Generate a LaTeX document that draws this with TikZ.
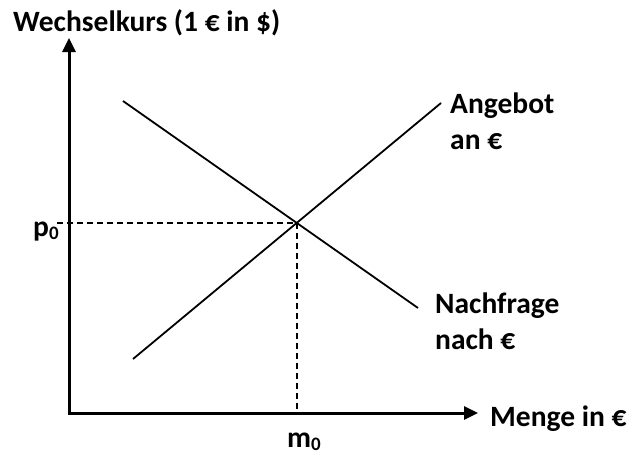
\documentclass[tikz,border=0pt]{standalone}
\usepackage{fontspec}
\setmainfont{Carlito}
\usetikzlibrary{arrows.meta}
\newcommand{\mysub}[1]{\raisebox{-3pt}{\fontsize{19}{19}\selectfont #1}}
\begin{document}
\begin{tikzpicture}[x=1pt,y=-1pt,
  lbl/.style={font=\fontsize{29.5}{36}\selectfont\bfseries, inner sep=0pt},
  axis/.style={line width=3pt, -{Triangle[length=14pt,width=13pt]}},
  curve/.style={line width=1.8pt},
  guide/.style={line width=1.3pt, dash pattern=on 6pt off 4pt}]
\useasboundingbox (0,0) rectangle (636,455);
\coordinate (O) at (69,413);
\coordinate (ytip) at (69,38);
\coordinate (xtip) at (478,413);
\draw[axis] ([yshift=-1.5pt]O) -- (ytip);
\draw[axis] ([xshift=-1.5pt]O) -- (xtip);
\coordinate (s1) at (133,359);
\coordinate (s2) at (441,103);
\coordinate (d1) at (123,101);
\coordinate (d2) at (418,308);
\draw[curve] (s1) -- (s2);
\draw[curve] (d1) -- (d2);
\coordinate (E) at (297,223);
\coordinate (px) at (57,223);
\coordinate (mx) at (297,413);
\draw[guide] (px) -- (E);
\draw[guide] (E) -- (mx);
\node[lbl, anchor=west] (ylab) at (13,23) {Wechselkurs (1 € in \$)};
\node[lbl, anchor=west] (xlab) at (490,419) {Menge in €};
\node[lbl, anchor=west, align=left] (ang) at (450,121) {Angebot\\an €};
\node[lbl, anchor=west, align=left] (nach) at (435,321) {Nachfrage\\nach €};
\node[lbl, anchor=base west] (p0) at (33,236) {p\mysub{0}};
\node[lbl, anchor=base west] (m0) at (287,447) {m\mysub{0}};
\end{tikzpicture}
\end{document}
